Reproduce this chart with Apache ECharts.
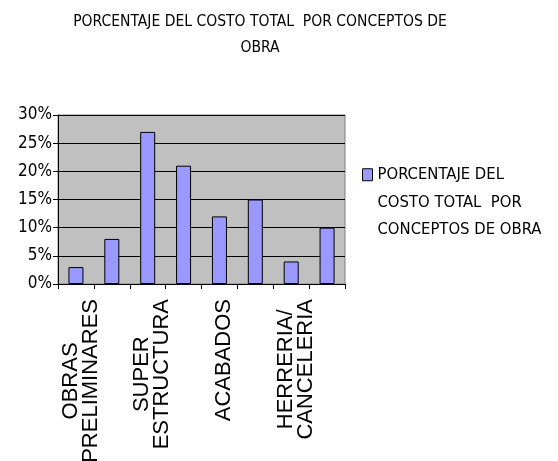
<!DOCTYPE html>
<html>
<head>
<meta charset="utf-8">
<script src="https://cdn.jsdelivr.net/npm/echarts@6/dist/echarts.min.js"></script>
<style>
  html, body { margin: 0; padding: 0; background: #ffffff; }
  #chart { width: 558px; height: 461px; }
</style>
</head>
<body>
<div id="chart"></div>
<script>
// Cost share per work concept (percent of total cost)
const categories = [
  'OBRAS\nPRELIMINARES', '', 'SUPER\nESTRUCTURA', '',
  'ACABADOS', '', 'HERRERIA/\nCANCELERIA', ''
];
const percentages = [3, 8, 27, 21, 12, 15, 4, 10];
const yTicks = { min: 0, max: 30, step: 5 };
const chartTitle = 'PORCENTAJE DEL COSTO TOTAL  POR CONCEPTOS DE\nOBRA';
const seriesName = 'PORCENTAJE DEL\nCOSTO TOTAL  POR\nCONCEPTOS DE OBRA';

const condensed = "'DejaVu Sans Condensed', 'Liberation Sans', sans-serif";
const sans = "'Liberation Sans', Arial, sans-serif";

const chart = echarts.init(document.getElementById('chart'), null, { renderer: 'canvas' });

chart.setOption({
  animation: false,
  backgroundColor: '#ffffff',
  title: {
    text: chartTitle,
    left: 260,
    top: 9,
    textAlign: 'center',
    padding: 0,
    textStyle: {
      fontFamily: condensed,
      fontSize: 15.5,
      fontWeight: 'normal',
      color: '#000000',
      lineHeight: 26
    }
  },
  legend: {
    data: [seriesName],
    orient: 'vertical',
    left: 362,
    top: 106,
    padding: 0,
    itemWidth: 10,
    itemHeight: 12,
    icon: 'rect',
    itemStyle: { borderColor: '#000000', borderWidth: 1 },
    // two blank lines above keep the swatch level with the first text line
    formatter: function (name) { return '\n\n' + name; },
    textStyle: {
      fontFamily: condensed,
      fontSize: 16.5,
      color: '#000000',
      lineHeight: 27.5
    }
  },
  grid: {
    left: 58,
    right: 213,
    top: 115,
    bottom: 177,
    outerBoundsMode: 'none',
    containLabel: false,
    show: true,
    backgroundColor: '#c0c0c0',
    borderColor: '#808080',
    borderWidth: 1
  },
  xAxis: {
    type: 'category',
    data: categories,
    axisLine: { show: true, lineStyle: { color: '#000000', width: 1 } },
    axisTick: { show: true, length: 5, interval: 0, lineStyle: { color: '#000000' } },
    axisLabel: {
      interval: 0,
      rotate: 90,
      margin: 15,
      padding: [9, 0, 0, 0],
      color: '#000000',
      fontFamily: sans,
      fontSize: 22,
      lineHeight: 20,
      formatter: function (v) {
        if (!v) return '';
        return v.split('\n').map(function (line) { return '{c|' + line + '}'; }).join('\n');
      },
      rich: {
        c: { align: 'center', fontFamily: sans, fontSize: 22, lineHeight: 20, color: '#000000' }
      }
    },
    splitLine: { show: false }
  },
  yAxis: {
    type: 'value',
    min: yTicks.min,
    max: yTicks.max,
    interval: yTicks.step,
    axisLine: { show: true, lineStyle: { color: '#000000', width: 1 } },
    axisTick: { show: true, length: 5, lineStyle: { color: '#000000' } },
    axisLabel: {
      margin: 6,
      color: '#000000',
      fontFamily: condensed,
      fontSize: 17,
      formatter: '{value}%'
    },
    splitLine: { show: true, lineStyle: { color: '#000000', width: 1 } }
  },
  series: [{
    name: seriesName,
    type: 'bar',
    data: percentages,
    barWidth: 15,
    itemStyle: {
      color: '#9999ff',
      borderColor: '#000000',
      borderWidth: 1
    }
  }]
});
</script>
</body>
</html>
